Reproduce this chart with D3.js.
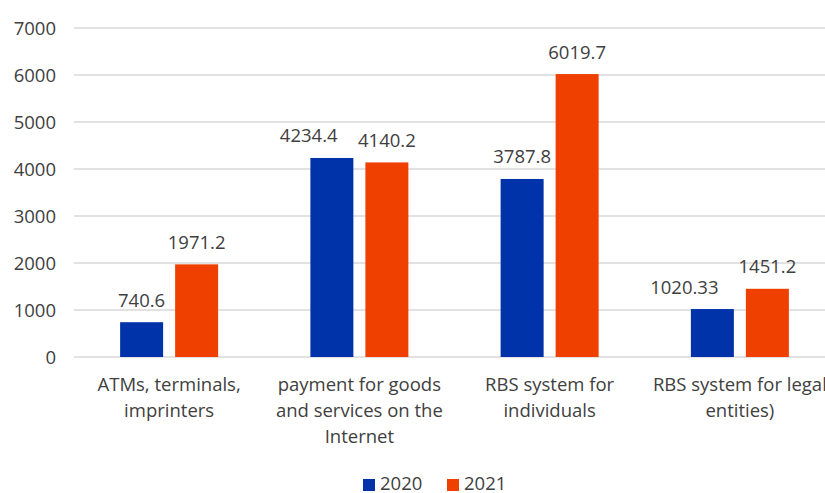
<!DOCTYPE html>
<html><head><meta charset="utf-8">
<script src="https://cdn.jsdelivr.net/npm/d3@7"></script>
<style>body{margin:0;background:#fff;} svg{display:block;}</style>
</head><body>
<svg id="c" width="825" height="493"></svg>
<script>
const categories = [["ATMs, terminals,","imprinters"],["payment for goods","and services on the","Internet"],["RBS system for","individuals"],["RBS system for legal","entities)"]];
const seriesNames = ["2020","2021"];
const values2020 = [740.6, 4234.4, 3787.8, 1020.33];
const values2021 = [1971.2, 4140.2, 6019.7, 1451.2];
const labels2020 = ["740.6","4234.4","3787.8","1020.33"];
const labels2021 = ["1971.2","4140.2","6019.7","1451.2"];
const yTicks = [0,1000,2000,3000,4000,5000,6000,7000];
const colors = ["#0033AA","#F04000"];

const svg = d3.select("#c");
const font = "'Open Sans', sans-serif";
const fs = 18.5;
const txt = "#404040";
const x0 = d3.scaleBand().domain(d3.range(categories.length)).range([74, 835]).paddingInner(0).paddingOuter(0);
const y = d3.scaleLinear().domain([0,7000]).range([357, 28]);

// gridlines
svg.append("g").selectAll("line").data(yTicks).join("line")
  .attr("x1", 74).attr("x2", 835)
  .attr("y1", d=>y(d)).attr("y2", d=>y(d))
  .attr("stroke", "#d9d9d9").attr("stroke-width", 1.3);

// y axis labels
const yAxis = d3.axisLeft(y).tickValues(yTicks).tickSize(0).tickPadding(0).tickFormat(d3.format("d"));
const ga = svg.append("g").attr("transform","translate(56,0)").call(yAxis);
ga.select(".domain").remove();
ga.selectAll("text").attr("font-family", font).attr("font-size", fs).attr("fill", txt).attr("dy","0.35em");

const barW = 43, gap = 12;
const series = [values2020, values2021];
const labelSets = [labels2020, labels2021];
const x1 = d3.scaleBand().domain([0,1]).range([0, barW*2+gap]).paddingInner(gap/(barW+gap)).paddingOuter(0);
const groupOffset = (x0.bandwidth() - (barW*2+gap))/2;

series.forEach((vals, s) => {
  svg.append("g").selectAll("rect").data(vals).join("rect")
    .attr("x", (d,i)=> x0(i) + groupOffset + x1(s))
    .attr("width", x1.bandwidth())
    .attr("y", d=>y(d)).attr("height", d=>y(0)-y(d))
    .attr("fill", colors[s]);
});

// data labels
const lblNodes = [[],[]];
series.forEach((vals, s) => {
  svg.append("g").selectAll("text").data(vals).join("text")
    .attr("x", (d,i)=> x0(i) + groupOffset + x1(s) + x1.bandwidth()/2)
    .attr("y", d=>y(d) - 22)
    .attr("dy","0.35em")
    .attr("text-anchor","middle")
    .attr("font-family", font).attr("font-size", fs).attr("fill", txt)
    .text((d,i)=>labelSets[s][i])
    .each(function(d,i){ lblNodes[s][i] = this; });
});
// avoid overlap of labels within a group (move the left label to the left)
for (let i=0;i<categories.length;i++){
  const a = lblNodes[0][i], b = lblNodes[1][i];
  const ba = a.getBBox(), bb = b.getBBox();
  const vOverlap = ba.y < bb.y + bb.height && bb.y < ba.y + ba.height;
  if (vOverlap && ba.x + ba.width > bb.x - 4) {
    const shift = (ba.x + ba.width) - (bb.x - 20);
    d3.select(a).attr("x", +d3.select(a).attr("x") - shift);
  }
}

// category labels
categories.forEach((lines, i) => {
  const t = svg.append("text").attr("text-anchor","middle")
    .attr("font-family", font).attr("font-size", fs).attr("fill", txt);
  lines.forEach((ln, k) => {
    t.append("tspan").attr("x", x0(i) + x0.bandwidth()/2).attr("y", 385 + k*26).attr("dy","0.35em").text(ln);
  });
});

// legend
const leg = svg.append("g");
const legX = [363, 447];
seriesNames.forEach((n, s) => {
  leg.append("rect").attr("x", legX[s]).attr("y", 479).attr("width", 12).attr("height", 12).attr("fill", colors[s]);
  leg.append("text").attr("x", legX[s]+17).attr("y", 484).attr("dy","0.35em")
    .attr("font-family", font).attr("font-size", fs).attr("fill", txt).text(n);
});
</script>
</body></html>
